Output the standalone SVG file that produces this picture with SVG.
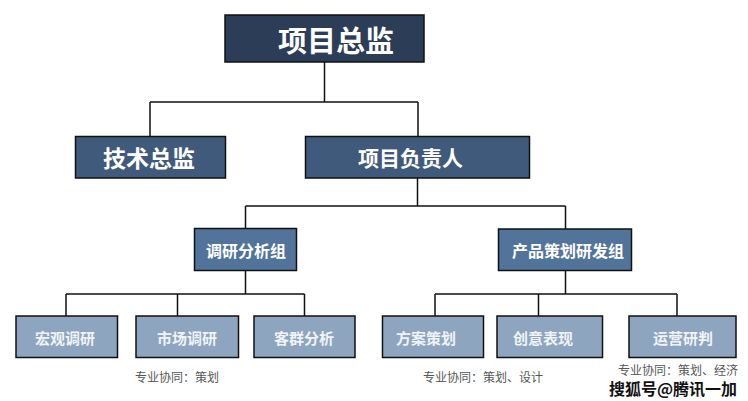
<svg xmlns="http://www.w3.org/2000/svg" width="748" height="401" viewBox="0 0 748 401">
<style>
.box{stroke:#111;stroke-width:1.5}
.l1{fill:#2b3d57}
.l2{fill:#405a7b}
.l3{fill:#52739a}
.l4{fill:#8ea5c0}
text{font-family:"Noto Sans CJK SC","Noto Sans",sans-serif;text-anchor:middle;dominant-baseline:central}
.t{fill:#fff;font-weight:bold}
.t4{fill:#f0f3f7;font-weight:bold;font-size:15px}
.cap{fill:#555;font-size:12px}
.conn{fill:none;stroke:#111;stroke-width:1.5}
</style>
<rect width="748" height="401" fill="#fff"/>
<g id="connectors" class="conn">
<path d="M324.5 62V102M150 102H418M150 102V136M418 102V136"/>
<path d="M417.5 178V206M245.5 206H565.5M245.5 206V228M565.5 206V229"/>
<path d="M245.5 270V294M66 294H304.5M66 294V316M177.5 294V316M304.5 294V316"/>
<path d="M565.5 270V294M435 294H677M435 294V316M538.5 294V316M677 294V316"/>
</g>
<g id="n-director"><rect class="box l1" x="225" y="15" width="199" height="47"/><text class="t" x="336" y="39" font-size="29">项目总监</text></g>
<g id="n-tech"><rect class="box l2" x="75.5" y="136.5" width="150" height="41.5"/><text class="t" x="149" y="157" font-size="23">技术总监</text></g>
<g id="n-pm"><rect class="box l2" x="305.5" y="136.5" width="224" height="41.5"/><text class="t" x="410.5" y="157" font-size="21">项目负责人</text></g>
<g id="n-research"><rect class="box l3" x="194.5" y="228.5" width="102" height="42"/><text class="t" x="246" y="250" font-size="16">调研分析组</text></g>
<g id="n-product"><rect class="box l3" x="498.5" y="229" width="133" height="41.5"/><text class="t" x="568" y="250" font-size="16">产品策划研发组</text></g>
<g id="n-macro"><rect class="box l4" x="16" y="316" width="101.5" height="41.5"/><text class="t4" x="65" y="337">宏观调研</text></g>
<g id="n-market"><rect class="box l4" x="136" y="316" width="102.5" height="41.5"/><text class="t4" x="187" y="337">市场调研</text></g>
<g id="n-customer"><rect class="box l4" x="254" y="316" width="101" height="41.5"/><text class="t4" x="304" y="337">客群分析</text></g>
<g id="n-plan"><rect class="box l4" x="382.5" y="316" width="101" height="41.5"/><text class="t4" x="426" y="337">方案策划</text></g>
<g id="n-creative"><rect class="box l4" x="497" y="316" width="105.5" height="41.5"/><text class="t4" x="543" y="337">创意表现</text></g>
<g id="n-ops"><rect class="box l4" x="629" y="316" width="107" height="41.5"/><text class="t4" x="683" y="337">运营研判</text></g>
<g id="captions">
<text class="cap" x="177" y="376">专业协同：策划</text>
<text class="cap" x="483" y="376">专业协同：策划、设计</text>
<text class="cap" x="678" y="369">专业协同：策划、经济</text>
<text x="673" y="388" font-size="16" font-weight="bold" fill="#111" stroke="#fff" stroke-width="0.6" paint-order="stroke">搜狐号@腾讯一加</text>
</g>
</svg>
